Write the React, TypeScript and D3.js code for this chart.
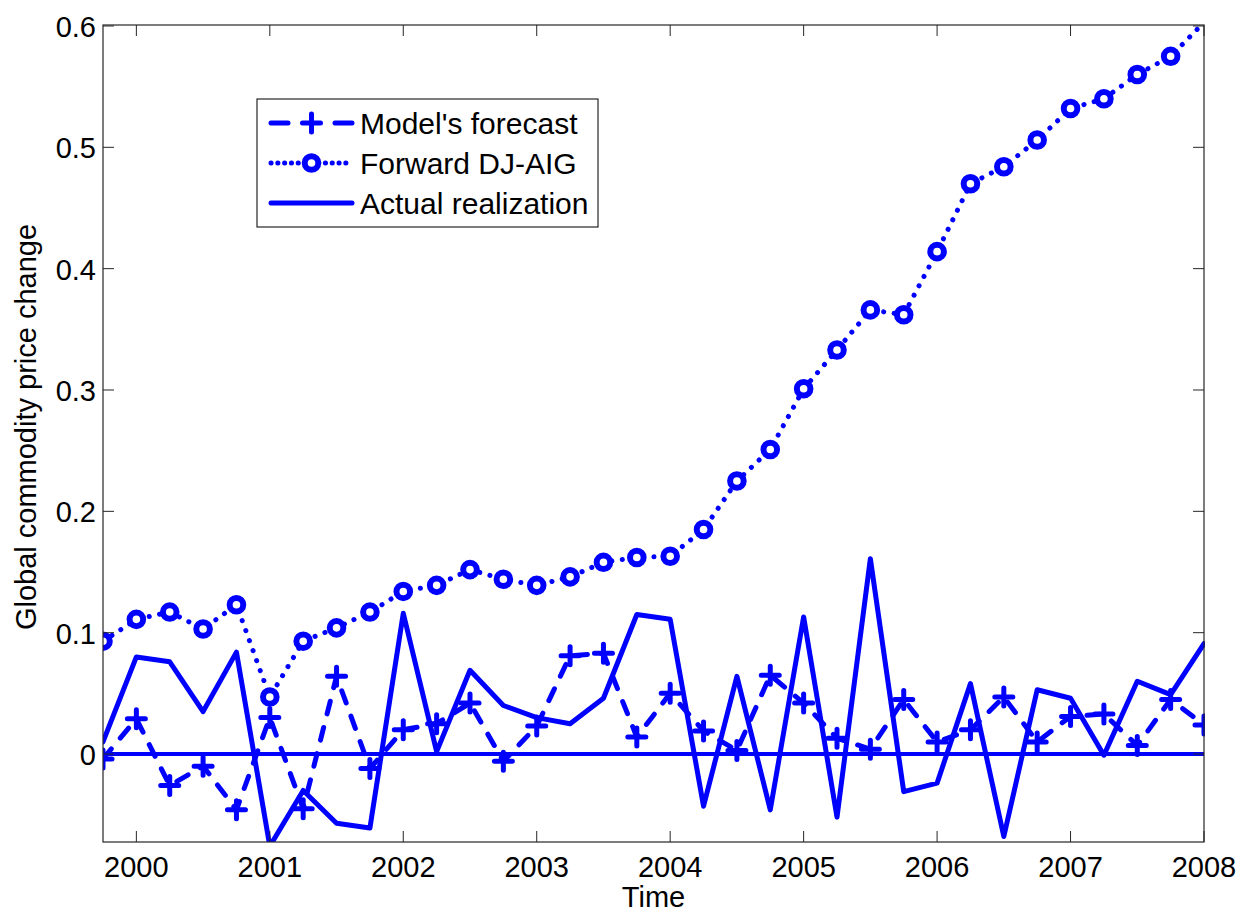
import React from "react";
import * as d3 from "d3";

// quarterly dates, 1999Q4 .. 2008Q1
const dates: number[] = d3.range(34).map((i) => 1999.75 + i * 0.25);

const forecast: number[] = [
  -0.004, 0.029, -0.026, -0.01, -0.046, 0.03, -0.045, 0.064, -0.012, 0.02,
  0.025, 0.042, -0.006, 0.023, 0.081, 0.083, 0.014, 0.05, 0.019, 0.003,
  0.065, 0.042, 0.013, 0.004, 0.045, 0.01, 0.02, 0.047, 0.01, 0.031,
  0.033, 0.007, 0.045, 0.024,
];

const forward: number[] = [
  0.093, 0.111, 0.117, 0.103, 0.123, 0.047, 0.093, 0.104, 0.117, 0.134,
  0.139, 0.152, 0.144, 0.139, 0.146, 0.158, 0.162, 0.163, 0.185, 0.225,
  0.251, 0.301, 0.333, 0.366, 0.362, 0.414, 0.47, 0.484, 0.506, 0.532,
  0.54, 0.56, 0.575, 0.603,
];

const actual: number[] = [
  0.01, 0.08, 0.076, 0.035, 0.084, -0.076, -0.03, -0.057, -0.061, 0.116,
  0.002, 0.069, 0.04, 0.03, 0.025, 0.046, 0.115, 0.111, -0.043, 0.064,
  -0.046, 0.113, -0.052, 0.161, -0.031, -0.024, 0.058, -0.068, 0.053, 0.046,
  -0.001, 0.06, 0.049, 0.091,
];

const xTicks = [2000, 2001, 2002, 2003, 2004, 2005, 2006, 2007, 2008];
const yTicks = [0, 0.1, 0.2, 0.3, 0.4, 0.5, 0.6];
const legendLabels = ["Model's forecast", "Forward DJ-AIG", "Actual realization"];

const W = 1242;
const H = 914;
const left = 103;
const right = 1204;
const top = 25;
const bottom = 842;
const blue = "#0000ff";
const axisColor = "#262626";
const font = "'Liberation Sans', Arial, Helvetica, sans-serif";
const fs = 29;

const x = d3.scaleLinear().domain([1999.75, 2008]).range([left, right]);
const y = d3.scaleLinear().domain([-0.0725, 0.6008]).range([bottom, top]);
const [yMin, yMax] = y.domain();

const line = d3
  .line<number>()
  .x((_, i) => x(dates[i]))
  .y((d) => y(d));

const Plus = ({ cx, cy }: { cx: number; cy: number }) => (
  <path
    d={`M${cx - 9},${cy}H${cx + 9}M${cx},${cy - 9}V${cy + 9}`}
    stroke={blue}
    strokeWidth={5}
    strokeLinecap="round"
  />
);

const Ring = ({ cx, cy }: { cx: number; cy: number }) => (
  <circle cx={cx} cy={cy} r={6.8} fill="white" stroke={blue} strokeWidth={6} />
);

const App = () => {
  const lx = 271;
  const lx2 = 352;
  const legendY = [123, 163, 203];
  const inside = (d: number) => d >= yMin && d <= yMax;
  return (
    <svg
      width={W}
      height={H}
      style={{ position: "absolute", left: 0, top: 0, background: "white" }}
    >
      <defs>
        <clipPath id="plot">
          <rect x={left} y={top - 1} width={right - left + 1} height={bottom - top + 1} />
        </clipPath>
      </defs>

      <g clipPath="url(#plot)">
        {/* zero line */}
        <line x1={left} x2={right} y1={y(0)} y2={y(0)} stroke={blue} strokeWidth={4} />

        <path
          d={line(forecast) || ""}
          fill="none"
          stroke={blue}
          strokeWidth={5}
          strokeDasharray="13,14"
          strokeLinecap="round"
          strokeLinejoin="round"
        />
        {forecast.map((d, i) =>
          inside(d) ? <Plus key={i} cx={x(dates[i])} cy={y(d)} /> : null
        )}

        <path
          d={line(forward) || ""}
          fill="none"
          stroke={blue}
          strokeWidth={5}
          strokeDasharray="0.1,10.5"
          strokeLinecap="round"
        />
        {forward.map((d, i) =>
          inside(d) ? <Ring key={i} cx={x(dates[i])} cy={y(d)} /> : null
        )}

        <path
          d={line(actual) || ""}
          fill="none"
          stroke={blue}
          strokeWidth={5}
          strokeLinejoin="round"
          strokeLinecap="round"
        />
      </g>

      {/* axes box */}
      <rect
        x={left}
        y={top}
        width={right - left}
        height={bottom - top}
        fill="none"
        stroke={axisColor}
        strokeWidth={1.2}
      />
      {xTicks.map((t) => (
        <g key={t}>
          <line x1={x(t)} x2={x(t)} y1={bottom} y2={bottom - 11} stroke={axisColor} strokeWidth={1} />
          <line x1={x(t)} x2={x(t)} y1={top} y2={top + 11} stroke={axisColor} strokeWidth={1} />
          <text
            x={x(t)}
            y={bottom + 35}
            textAnchor="middle"
            fontFamily={font}
            fontSize={fs}
            fill="black"
          >
            {t}
          </text>
        </g>
      ))}
      {yTicks.map((t) => (
        <g key={t}>
          <line x1={left} x2={left + 11} y1={y(t)} y2={y(t)} stroke={axisColor} strokeWidth={1} />
          <line x1={right} x2={right - 11} y1={y(t)} y2={y(t)} stroke={axisColor} strokeWidth={1} />
          <text
            x={left - 7}
            y={y(t) + 11}
            textAnchor="end"
            fontFamily={font}
            fontSize={fs}
            fill="black"
          >
            {t === 0 ? "0" : t.toFixed(1)}
          </text>
        </g>
      ))}

      <text
        x={(left + right) / 2}
        y={907}
        textAnchor="middle"
        fontFamily={font}
        fontSize={fs}
        fill="black"
      >
        Time
      </text>
      <text
        transform={`translate(36, 427) rotate(-90)`}
        textAnchor="middle"
        fontFamily={font}
        fontSize={fs}
        fill="black"
      >
        Global commodity price change
      </text>

      {/* legend */}
      <rect x={257} y={99} width={341} height={128} fill="white" stroke={axisColor} strokeWidth={1.2} />
      <line
        x1={lx}
        x2={lx2}
        y1={legendY[0]}
        y2={legendY[0]}
        stroke={blue}
        strokeWidth={5}
        strokeDasharray="17,47,17"
        strokeLinecap="round"
      />
      <Plus cx={(lx + lx2) / 2} cy={legendY[0]} />
      <line
        x1={lx}
        x2={lx2}
        y1={legendY[1]}
        y2={legendY[1]}
        stroke={blue}
        strokeWidth={5}
        strokeDasharray="0.1,6.7"
        strokeLinecap="round"
      />
      <Ring cx={(lx + lx2) / 2} cy={legendY[1]} />
      <line
        x1={lx}
        x2={lx2}
        y1={legendY[2]}
        y2={legendY[2]}
        stroke={blue}
        strokeWidth={5}
        strokeLinecap="round"
      />
      {legendLabels.map((l, i) => (
        <text
          key={l}
          x={360}
          y={legendY[i] + 11}
          fontFamily={font}
          fontSize={30}
          fill="black"
        >
          {l}
        </text>
      ))}
    </svg>
  );
};

export default App;
